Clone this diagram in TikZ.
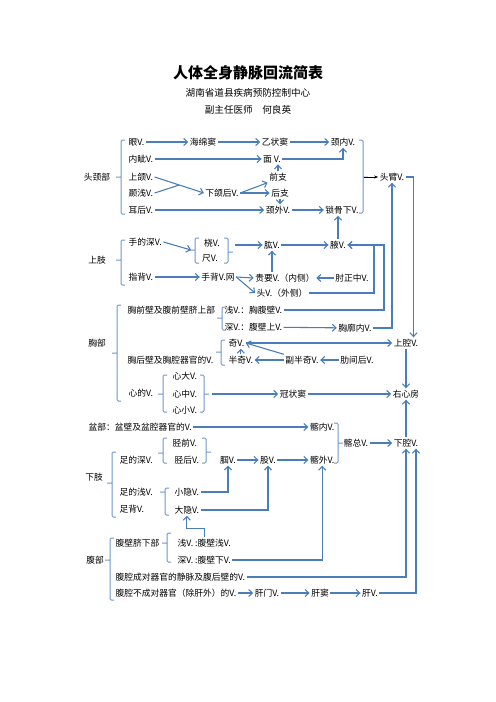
\documentclass[tikz,border=0pt]{standalone}
\usepackage{fontspec}
\setmainfont{Noto Sans CJK SC}
\usepackage{xcolor}
\usetikzlibrary{arrows.meta, positioning, calc}
\definecolor{linec}{RGB}{74,126,187}
\definecolor{bracec}{RGB}{112,152,205}
\tikzset{vein/.style={inner sep=1pt,outer sep=1pt,font=\fontsize{10.5}{12}\selectfont},
         link/.style={draw=linec,line width=1.3pt,-{Straight Barb[length=4.5pt,width=8.5pt]}},
         wire/.style={draw=linec,line width=1.3pt},
         brace/.style={draw=bracec,line width=1.2pt,rounded corners=1.5pt},
         darrow/.style={draw=black,line width=1.2pt,-{Stealth[length=5pt]}}}

\begin{document}
\begin{tikzpicture}[x=1.2pt,y=-1.2pt,every node/.style={vein}]
    \useasboundingbox[fill=white] (0,0) rectangle (496,702);
    % title
    \node (title) [font=\fontsize{18}{20}\selectfont\bfseries] at (248,73) {人体全身静脉回流简表};
    \node (unit) [font=\fontsize{11.5}{13}\selectfont] at (248,93) {湖南省道县疾病预防控制中心};
    \node (author) [font=\fontsize{11.5}{13}\selectfont] at (248,110) {副主任医师\quad 何良英};
    % head and neck
    \node (toujing) at (97,177) {头颈部};
    \node (yan) [anchor=west] at (127,142) {眼V.};
    \node (hmd) at (203,142) {海绵窦};
    \node (yzd) at (275,142) {乙状窦};
    \node (jingnei) at (343,142) {颈内V.};
    \node (neizi) [anchor=west] at (127,159) {内眦V.};
    \node (mian) at (272,159) {面\ V.};
    \node (shanghe) [anchor=west] at (127,177) {上颌V.};
    \node (nieqian) [anchor=west] at (127,193) {颞浅V.};
    \node (xiahe) at (222,193) {下颌后V.};
    \node (qianzhi) at (278,177) {前支};
    \node (houzhi) at (280,193) {后支};
    \node (erhou) [anchor=west] at (127,210) {耳后V.};
    \node (jingwai) at (278,210) {颈外V.};
    \node (suogu) at (342,210) {锁骨下V.};
    \node (toubi) at (392,177) {头臂V.};
    % upper limb
    \node (shangzhi) at (97,260) {上肢};
    \node (shoushen) [anchor=west] at (127,242) {手的深V.};
    \node (rao) at (212,243) {桡V.};
    \node (chi) at (210,258) {尺V.};
    \node (gong) at (272,245) {肱V.};
    \node (ye) at (338,245) {腋V.};
    \node (zhibei) [anchor=west] at (127,277) {指背V.};
    \node (shoubei) at (218,277) {手背V.网};
    \node (guiyao) at (285,278) {贵要V.（内侧）};
    \node (zhouzz) at (352,278) {肘正中V.};
    \node (touwai) at (282,293) {头V.（外侧）};
    % thorax
    \node (xiong) at (97,343) {胸部};
    \node (qianbi) [anchor=west] at (126,310) {胸前壁及腹前壁脐上部};
    \node (xfb) [anchor=west] at (223,310) {浅V.：胸腹壁V.};
    \node (sfb) [anchor=west] at (223,327) {深V.：腹壁上V.};
    \node (xklnei) at (355,328) {胸廓内V.};
    \node (qi) [anchor=west] at (227,343) {奇V.};
    \node (houbi) [anchor=west] at (126,360) {胸后壁及胸腔器官的V.};
    \node (banqi) [anchor=west] at (227,360) {半奇V.};
    \node (fbq) at (302,360) {副半奇V.};
    \node (leij) at (357,360) {肋间后V.};
    \node (shangqiang) at (406,343) {上腔V.};
    \node (xinde) [anchor=west] at (127,393) {心的V.};
    \node (xinda) [anchor=west] at (171,376) {心大V.};
    \node (xinzhong) [anchor=west] at (171,394) {心中V.};
    \node (xinxiao) [anchor=west] at (171,410) {心小V.};
    \node (gzd) at (293,394) {冠状窦};
    \node (youxf) at (406,394) {右心房};
    % pelvis
    \node (pen) [anchor=west] at (87,427) {盆部：盆壁及盆腔器官的V.};
    \node (qianei) [anchor=east] at (336,427) {髂内V.};
    \node (qiazong) at (356,443) {髂总V.};
    \node (xiaqiang) at (406,443) {下腔V.};
    % lower limb
    \node (xiazhi) at (94,477) {下肢};
    \node (zushen) [anchor=west] at (118,460) {足的深V.};
    \node (jingqian) [anchor=west] at (171,443) {胫前V.};
    \node (jinghou) [anchor=west] at (173,460) {胫后V.};
    \node (guo) at (228,460) {腘V.};
    \node (gu) at (268,460) {股V.};
    \node (qiawai) [anchor=east] at (336,460) {髂外V.};
    \node (zuqian) [anchor=west] at (118,492) {足的浅V.};
    \node (zubei) [anchor=west] at (118,509) {足背V.};
    \node (xiaoyin) [anchor=west] at (173,492) {小隐V.};
    \node (dayin) [anchor=west] at (173,510) {大隐V.};
    % abdomen
    \node (fubu) at (95,560) {腹部};
    \node (qixia) [anchor=west] at (114,543) {腹壁脐下部};
    \node (xfbq) [anchor=west] at (176,543) {浅V. :腹壁浅V.};
    \node (sfbx) [anchor=west] at (176,560) {深V. :腹壁下V.};
    \node (chengdui) [anchor=west] at (114,577) {腹腔成对器官的静脉及腹后壁的V.};
    \node (buchengdui) [anchor=west] at (114,593) {腹腔不成对器官（除肝外）的V.};
    \node (ganmen) at (267,593) {肝门V.};
    \node (gandou) at (320,593) {肝窦};
    \node (gan) at (370,593) {肝V.};
    % braces, open to the right
    \foreach \bx/\bt/\bb/\bm in {121/140/214/177,121/240/285/260,117/305/401/353,112/452/517/483,110/538/600/560,
                                 195/238/263/250,222/307/330/318,221/340/365/352,163/375/412/394,163/438/463/453,
                                 165/488/515/492,167/533/562/543}
      \draw[brace] ({\bx+4},\bt) -- (\bx,\bt) -- (\bx,\bb) -- ({\bx+4},\bb) (\bx,\bm) -- ({\bx-5},\bm);
    % braces, open to the left
    \foreach \bx/\bt/\bb/\bm in {363/140/213/177,228/238/263/252,204/375/412/394,338/423/463/443,206/438/463/452}
      \draw[brace] ({\bx-4},\bt) -- (\bx,\bt) -- (\bx,\bb) -- ({\bx-4},\bb) (\bx,\bm) -- ({\bx+5},\bm);
    \coordinate (headout) at (364,177);
    \coordinate (rcin) at (191,250);
    \coordinate (rcout) at (235,245);
    \coordinate (xinout) at (212,394);
    \coordinate (yeA) at (374,245);
    \coordinate (yeB) at (384,245);
    \coordinate (hecross) at ($(shanghe.east)!0.5!(xiahe.west)$);
    % straight arrows
    \foreach \i/\j in {yan/hmd,hmd/yzd,yzd/jingnei,neizi/mian,erhou/jingwai,jingwai/suogu,gong/ye,zhibei/shoubei,
                       zhouzz/guiyao,sfb/xklnei,qi/shangqiang,leij/fbq,fbq/banqi,gzd/youxf,pen/qianei,qiazong/xiaqiang,
                       guo/gu,gu/qiawai,buchengdui/ganmen,ganmen/gandou,gandou/gan} {\draw[link] (\i) -- (\j);}
    \draw[link] (shanghe.east) -- (xiahe.west);
    \draw[wire] (nieqian.east) -- (hecross);
    \draw[link] (xiahe.east) -- (qianzhi.south west);
    \draw[link] (xiahe.east) -- (houzhi.west);
    \draw[link] (qianzhi.north) -- (qianzhi.north |- mian.south);
    \draw[link] (houzhi.south) -- (houzhi.south |- jingwai.north);
    \draw[link] (mian.east) -| (jingnei.south);
    \draw[darrow] (headout) -- (toubi.west);
    \draw[link] (shoushen.east) -- (rcin);
    \draw[link] (rcout) -- (gong.west);
    \draw[link] (shoubei.east) -- (guiyao.west);
    \draw[link] (shoubei.east) -- (touwai.west);
    \draw[link] (guiyao.north -| gong) -- (gong.south);
    \draw[link] (touwai.east) -| (yeA) -- (ye.east);
    \draw[link] (xfb.east) -| (yeB) -- (ye.east);
    \draw[link] (ye.north) -- (ye.north |- suogu.south);
    \draw[link] (xklnei.east) -| (toubi.south);
    \draw[link] (toubi.east) -| ([xshift=9pt]shangqiang.north);
    \draw[link] (fbq.north west) -- (qi.east);
    \draw[link] (banqi.north) -- (banqi.north |- qi.south);
    \draw[link] (shangqiang.south) -- (youxf.north);
    \draw[link] (xinout) -- (gzd.west);
    \draw[link] (xiaqiang.north) -- (youxf.south);
    \draw[link] (xiaoyin.east) -| (guo.south);
    \draw[link] (dayin.east) -| (gu.south);
    \draw[link] (xfbq.north) -- ++(0,-9) -| (dayin.south);
    \draw[link] (sfbx.east) -| (qiawai.south);
    \draw[link] (chengdui.east) -| (xiaqiang.south);
    \draw[link] (gan.east) -| ([xshift=12pt]xiaqiang.south);
\end{tikzpicture}
\end{document}
